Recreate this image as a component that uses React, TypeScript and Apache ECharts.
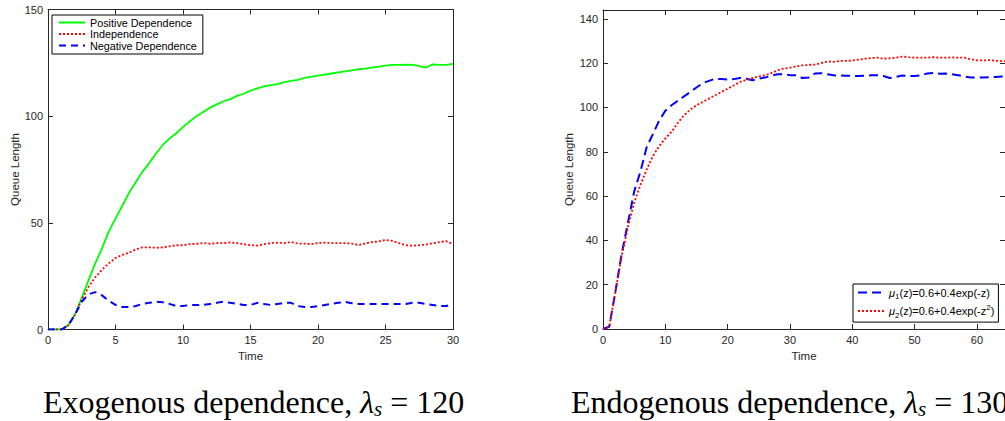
import React, { useEffect, useRef } from 'react';
import * as echarts from 'echarts';

// ---- Left panel: exogenous dependence (lambda_s = 120) ----
const leftTime = [
  0, 0.5, 1, 1.5, 2, 2.5, 3, 3.5, 4, 4.5,
  5, 5.5, 6, 6.5, 7, 7.5, 8, 8.5, 9, 9.5,
  10, 10.5, 11, 11.5, 12, 12.5, 13, 13.5, 14, 14.5,
  15, 15.5, 16, 16.5, 17, 17.5, 18, 18.5, 19, 19.5,
  20, 20.5, 21, 21.5, 22, 22.5, 23, 23.5, 24, 24.5,
  25, 25.5, 26, 26.5, 27, 27.5, 28, 28.5, 29, 29.5,
  30,
];
const positiveDep = [
  0, 0, 0, 2, 7, 15, 23, 31, 38, 46,
  52, 58, 64, 69, 74, 78, 82.5, 86.5, 89.5, 92,
  95, 97.5, 100, 102, 104, 105.5, 107, 108, 109.5, 110.5,
  112, 113, 114, 114.5, 115, 116, 116.5, 117, 118, 118.5,
  119, 119.5, 120, 120.5, 121, 121.5, 122, 122.3, 122.8, 123.2,
  123.7, 124, 124, 124.2, 124, 123.5, 122.8, 124.3, 124, 124,
  124.5,
];
const independence = [
  0, 0, 0, 2, 7, 14, 20, 24.5, 28, 31,
  33.5, 35, 36, 37.5, 38.5, 38.5, 38.3, 38.5, 39, 39.5,
  39.5, 40, 40.2, 40.5, 40.2, 40.5, 40.5, 40.8, 40.5, 40,
  39.5, 39.3, 40, 40.5, 40.7, 40.5, 41, 40.3, 40.3, 40,
  40.6, 40.7, 40.5, 40.5, 40.5, 40.3, 39.6, 40.3, 41, 41.3,
  42, 41.5, 40.5, 39.5, 39.3, 39.5, 39.8, 40.4, 41, 41.4,
  40,
];
const negativeDep = [
  0, 0, 0, 2, 7, 13, 16.5, 17.5, 16, 13.5,
  11.5, 10.5, 10.5, 11, 12, 12.5, 13, 12.8, 12, 11,
  11, 11.5, 11.5, 11.5, 12, 12.5, 13, 12.5, 12, 11.5,
  11.5, 12.5, 12, 11.5, 12, 12.5, 12.5, 11, 10.5, 10.5,
  11, 11.5, 12, 12.5, 13, 12.3, 12, 12, 12, 12,
  12, 12, 12, 12, 12.5, 12.5, 12, 11.5, 11, 11,
  12,
];
const leftXTicks = [0, 5, 10, 15, 20, 25, 30];
const leftYTicks = [0, 50, 100, 150];

// ---- Right panel: endogenous dependence (lambda_s = 130) ----
const rightTime = [
  0, 1, 2, 3, 4, 5, 6, 7, 8, 9,
  10, 11, 12, 13, 14, 15, 16, 17, 18, 19,
  20, 21, 22, 23, 24, 25, 26, 27, 28, 29,
  30, 31, 32, 33, 34, 35, 36, 37, 38, 39,
  40, 41, 42, 43, 44, 45, 46, 47, 48, 49,
  50, 51, 52, 53, 54, 55, 56, 57, 58, 59,
  60, 61, 62, 63, 64, 65,
];
const mu1Queue = [
  0, 1, 17, 34, 48, 62, 71, 82, 88, 94,
  98.5, 101, 103, 105, 107, 109, 111, 112, 113, 112.8,
  112.6, 112.8, 113.3, 113, 112.3, 113, 113.5, 114.3, 115, 115,
  114.6, 114.5, 113.3, 113.5, 115.3, 115.5, 115, 114.5, 114.4, 114.3,
  114.3, 114.2, 114.3, 114.5, 114.6, 114.2, 113.3, 113.8, 114.4, 114.2,
  114.2, 114.5, 115.3, 115.6, 115.2, 115.3, 115, 114.5, 114, 113.5,
  113.5, 113.5, 113.6, 113.8, 114, 114,
];
const mu2Queue = [
  0, 1, 17, 33, 46, 57, 65, 72, 78, 82.5,
  86, 89, 93, 96.5, 99, 101, 102.5, 104, 105.5, 107,
  108.5, 110, 111.5, 112.5, 113.3, 114, 114.5, 115.5, 116.8, 117.5,
  118, 118.5, 119, 119.2, 119.4, 120, 120.8, 120.6, 121, 121,
  121.2, 121.6, 122, 122.3, 122.5, 122, 122.2, 122.5, 123, 122.7,
  122.5, 122.5, 122.5, 122.7, 122.5, 122.5, 122.6, 122.5, 122.5, 121.8,
  121.3, 121.2, 121.4, 121.1, 120.9, 120.9,
];
const rightXTicks = [0, 10, 20, 30, 40, 50, 60];
const rightYTicks = [0, 20, 40, 60, 80, 100, 120, 140];

const leftNames = ['Positive Dependence', 'Independence', 'Negative Dependence'];
const rightNames = ['μ1(z)=0.6+0.4exp(-z)', 'μ2(z)=0.6+0.4exp(-z2)'];
const captions = ['Exogenous dependence, ', 'Endogenous dependence, '];
const captionValues = ['120', '130'];

const SANS = '"Liberation Sans", Arial, Helvetica, sans-serif';
const SERIF = '"Liberation Serif", "Times New Roman", serif';
const AX = '#262626';

function pairs(t: number[], v: number[]) {
  return t.map((x, i) => [x, v[i]]);
}

function xAxes(gridIndex: number, ticks: number[], max: number) {
  const interval = ticks[1] - ticks[0];
  const common = {
    type: 'value' as const,
    gridIndex,
    min: ticks[0],
    max,
    interval,
    splitLine: { show: false },
    axisLine: { show: true, onZero: false, lineStyle: { color: AX, width: 1 } },
    axisTick: { show: true, inside: true, length: 5, lineStyle: { color: AX } },
  };
  return [
    {
      ...common,
      position: 'bottom',
      name: 'Time',
      nameLocation: 'middle',
      nameGap: 19,
      nameTextStyle: { fontFamily: SANS, fontSize: 11.5, color: AX },
      axisLabel: {
        show: true, margin: 5, fontFamily: SANS, fontSize: 11, color: AX,
        showMaxLabel: max === ticks[ticks.length - 1],
      },
    },
    { ...common, position: 'top', axisLabel: { show: false } },
  ];
}

function yAxes(gridIndex: number, ticks: number[], max: number, gap: number) {
  const interval = ticks[1] - ticks[0];
  const common = {
    type: 'value' as const,
    gridIndex,
    min: ticks[0],
    max,
    interval,
    splitLine: { show: false },
    axisLine: { show: true, onZero: false, lineStyle: { color: AX, width: 1 } },
    axisTick: { show: true, inside: true, length: 5, lineStyle: { color: AX } },
  };
  return [
    {
      ...common,
      position: 'left',
      name: 'Queue Length',
      nameLocation: 'middle',
      nameGap: gap,
      nameTextStyle: { fontFamily: SANS, fontSize: 11.5, color: AX },
      axisLabel: {
        show: true, margin: 5, fontFamily: SANS, fontSize: 11, color: AX,
        showMaxLabel: max === ticks[ticks.length - 1],
      },
    },
    { ...common, position: 'right', axisLabel: { show: false } },
  ];
}

const captionRich = {
  a: { fontFamily: SERIF, fontSize: 32, color: '#000' },
  l: { fontFamily: SERIF, fontSize: 32, fontStyle: 'italic', color: '#000' },
  s: { fontFamily: SERIF, fontSize: 21, fontStyle: 'italic', color: '#000', padding: [14, 0, 0, 0] },
};

function buildOption() {
  return {
    animation: false,
    backgroundColor: '#fff',
    grid: [
      { left: 48, top: 9.5, width: 405, height: 320 },
      { left: 603, top: 10, width: 402, height: 319 },
    ],
    xAxis: [...xAxes(0, leftXTicks, 30), ...xAxes(1, rightXTicks, 64.5)],
    yAxis: [...yAxes(0, leftYTicks, 150, 27), ...yAxes(1, rightYTicks, 144, 28)],
    legend: [
      {
        data: leftNames,
        orient: 'vertical',
        left: 52,
        top: 15,
        padding: [2, 6, 3, 6],
        itemGap: 0.5,
        itemWidth: 26,
        itemHeight: 11,
        itemStyle: { opacity: 0, borderWidth: 0 },
        borderColor: '#000',
        borderWidth: 1,
        backgroundColor: '#fff',
        selectedMode: false,
        textStyle: { fontFamily: SANS, fontSize: 10.8, color: '#000' },
      },
      {
        data: rightNames,
        orient: 'vertical',
        left: 853,
        top: 284,
        padding: [3, 4, 3, 4],
        itemGap: 3,
        itemWidth: 26,
        itemHeight: 14,
        itemStyle: { opacity: 0, borderWidth: 0 },
        borderColor: '#000',
        borderWidth: 1,
        backgroundColor: '#fff',
        selectedMode: false,
        formatter: (name: string) =>
          name === rightNames[0]
            ? '{mu|μ}{sub|1}{t|(z)=0.6+0.4exp(-z)}'
            : '{mu|μ}{sub|2}{t|(z)=0.6+0.4exp(-z}{sup|2}{t|)}',
        textStyle: {
          fontFamily: SANS,
          fontSize: 11,
          color: '#000',
          rich: {
            mu: { fontFamily: SANS, fontSize: 11, fontStyle: 'italic', color: '#000' },
            sub: { fontFamily: SANS, fontSize: 8, color: '#000', padding: [8, 0, 0, 0] },
            sup: { fontFamily: SANS, fontSize: 8, color: '#000', padding: [0, 0, 7, 0] },
            t: { fontFamily: SANS, fontSize: 11, color: '#000' },
          },
        },
      },
    ],
    graphic: [
      {
        type: 'text',
        left: 43,
        top: 386,
        style: {
          text: `{a|${captions[0]}}{l|λ}{s|s}{a| = ${captionValues[0]}}`,
          rich: captionRich,
        },
      },
      {
        type: 'text',
        left: 571,
        top: 386,
        style: {
          text: `{a|${captions[1]}}{l|λ}{s|s}{a| = ${captionValues[1]}}`,
          rich: captionRich,
        },
      },
    ],
    series: [
      {
        name: leftNames[0], type: 'line', xAxisIndex: 0, yAxisIndex: 0, showSymbol: false, symbol: 'none',
        data: pairs(leftTime, positiveDep),
        lineStyle: { color: '#00ff00', width: 1.8 }, itemStyle: { color: '#00ff00' },
      },
      {
        name: leftNames[1], type: 'line', xAxisIndex: 0, yAxisIndex: 0, showSymbol: false, symbol: 'none',
        data: pairs(leftTime, independence),
        lineStyle: { color: '#ff0000', width: 1.8, type: [2, 2] }, itemStyle: { color: '#ff0000' },
      },
      {
        name: leftNames[2], type: 'line', xAxisIndex: 0, yAxisIndex: 0, showSymbol: false, symbol: 'none',
        data: pairs(leftTime, negativeDep),
        lineStyle: { color: '#0000ff', width: 2, type: [7, 5] }, itemStyle: { color: '#0000ff' },
      },
      {
        name: rightNames[0], type: 'line', xAxisIndex: 2, yAxisIndex: 2, showSymbol: false, symbol: 'none',
        data: pairs(rightTime, mu1Queue),
        lineStyle: { color: '#0000ff', width: 2, type: [9, 5] }, itemStyle: { color: '#0000ff' },
      },
      {
        name: rightNames[1], type: 'line', xAxisIndex: 2, yAxisIndex: 2, showSymbol: false, symbol: 'none',
        data: pairs(rightTime, mu2Queue),
        lineStyle: { color: '#ff0000', width: 1.8, type: [2, 2] }, itemStyle: { color: '#ff0000' },
      },
    ],
  };
}

export default function App() {
  const ref = useRef<HTMLDivElement>(null);
  useEffect(() => {
    if (!ref.current) return;
    const chart = echarts.init(ref.current, null, { renderer: 'svg' });
    chart.setOption(buildOption() as any);
    return () => chart.dispose();
  }, []);
  return (
    <div
      ref={ref}
      style={{ position: 'fixed', left: 0, top: 0, width: 1005, height: 421, background: '#fff', overflow: 'hidden' }}
    />
  );
}
